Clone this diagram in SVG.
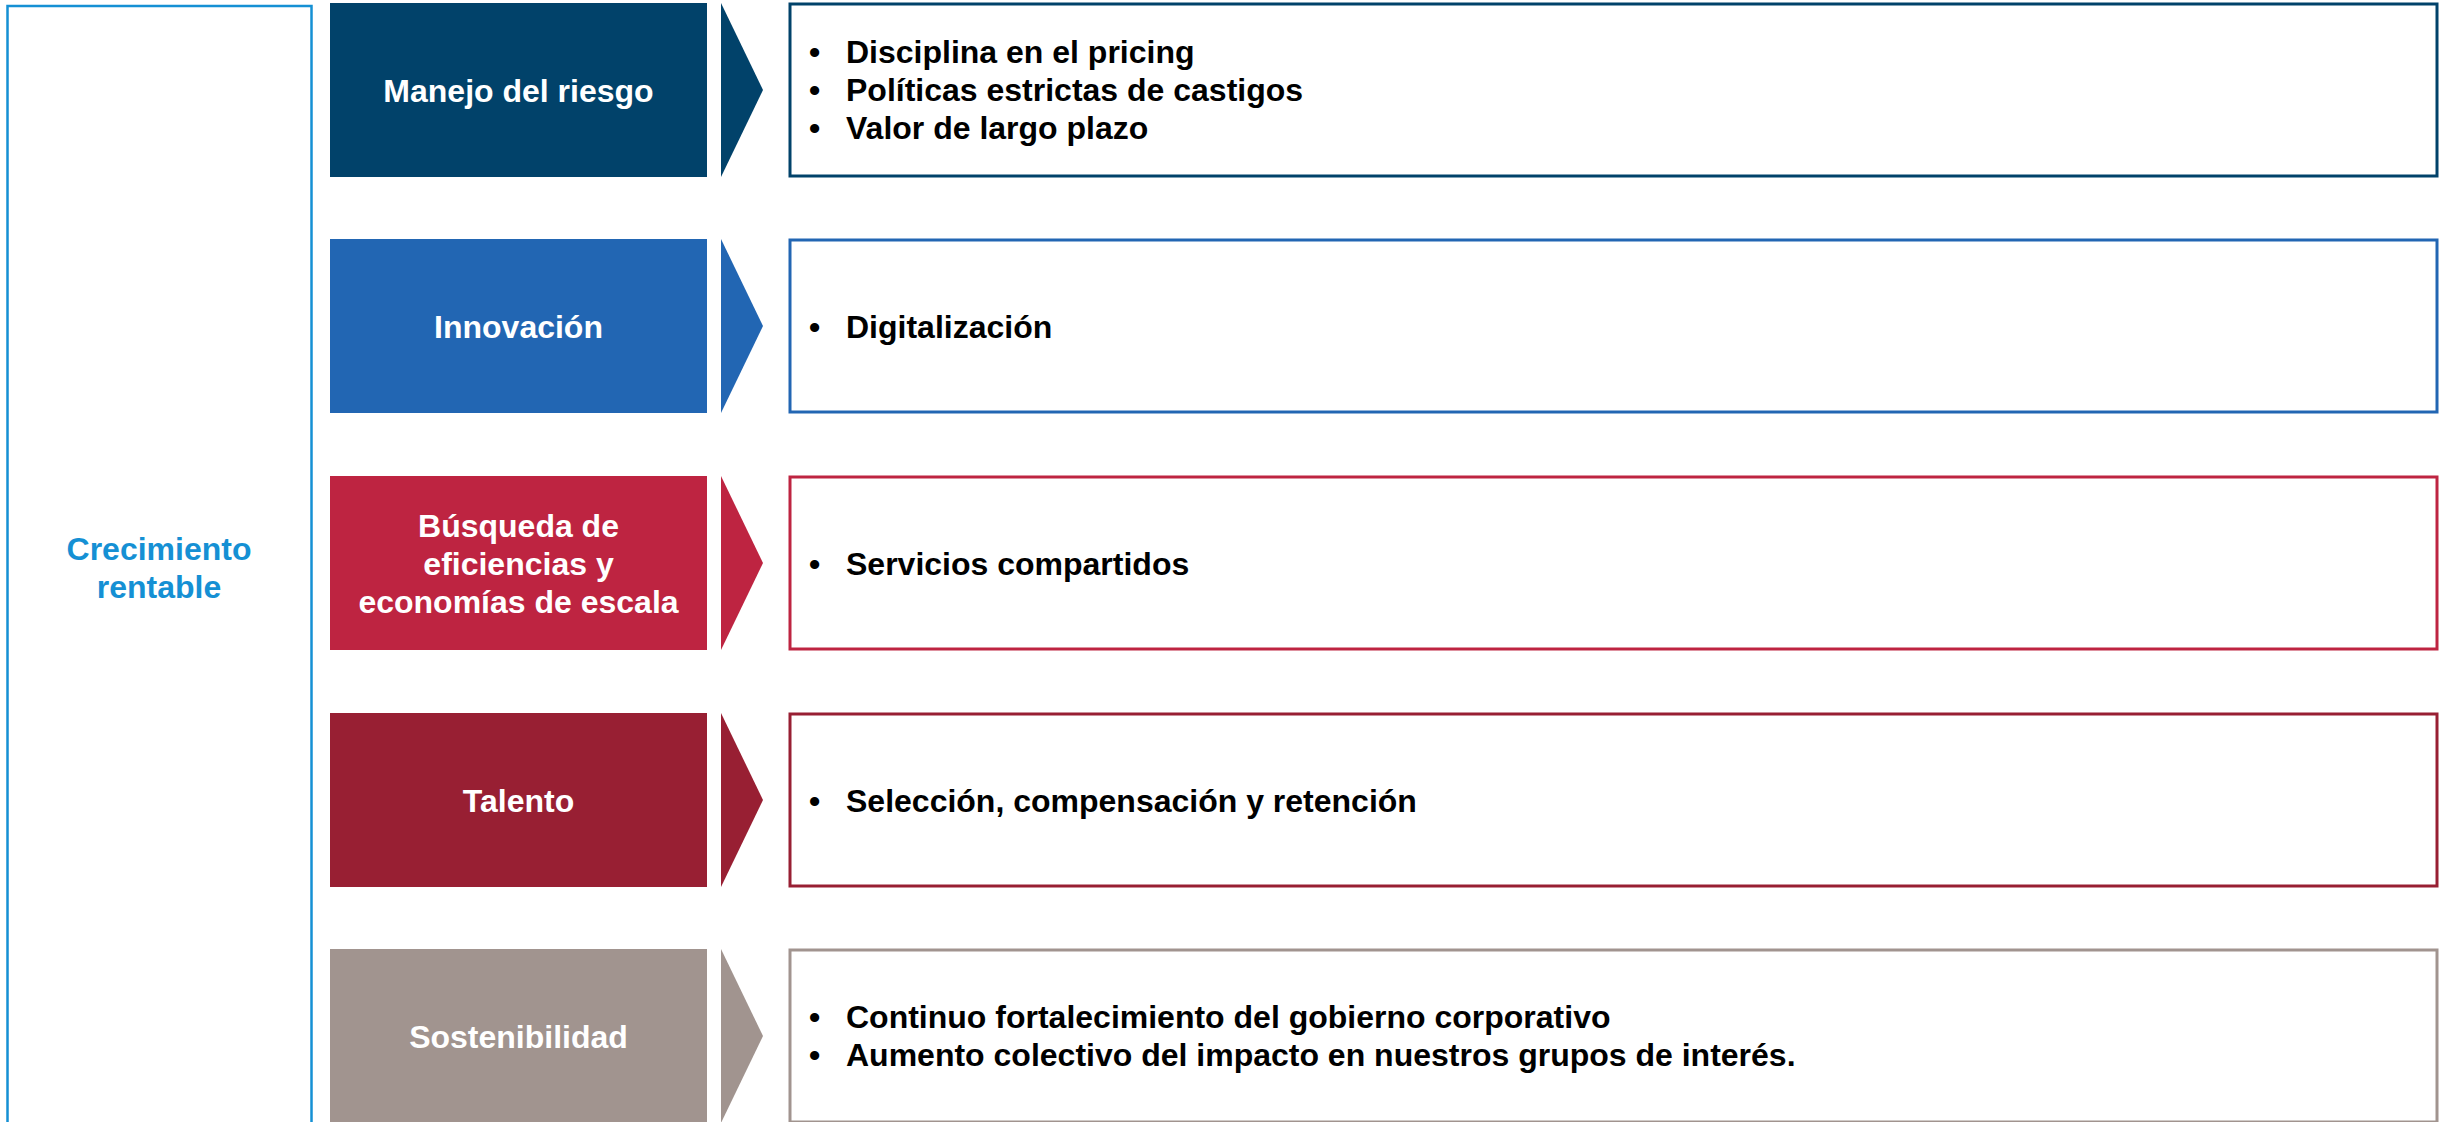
<svg xmlns="http://www.w3.org/2000/svg" width="2446" height="1122" viewBox="0 0 2446 1122">
<style>
text{font-family:"Liberation Sans",Arial,sans-serif;font-weight:bold;font-size:32px}
.lbl{fill:#fff;text-anchor:middle}
.item{fill:#000}
.box{fill:#fff;stroke-width:3}
</style>
<rect width="2446" height="1122" fill="#fff"/>
<g id="crecimiento">
<rect x="7.5" y="6" width="304" height="1140" fill="none" stroke="#1590D4" stroke-width="2.5"/>
<text x="159" y="560" text-anchor="middle" fill="#1590D4">Crecimiento</text>
<text x="159" y="598" text-anchor="middle" fill="#1590D4">rentable</text>
</g>
<g id="connectors">
<polygon points="721,3 763,90 721,177" fill="#01426A"/>
<polygon points="721,239 763,326 721,413" fill="#2266B3"/>
<polygon points="721,476 763,563 721,650" fill="#BE2441"/>
<polygon points="721,713 763,800 721,887" fill="#981F33"/>
<polygon points="721,949 763,1036 721,1123" fill="#A1948F"/>
</g>
<g id="riesgo">
<rect x="330" y="3" width="377" height="174" fill="#01426A"/>
<text class="lbl" x="518.5" y="102">Manejo del riesgo</text>
</g>
<g id="riesgo-detalle">
<rect class="box" x="790" y="4" width="1647" height="172" stroke="#01426A"/>
<text class="item" x="809" y="63">•</text><text class="item" x="846" y="63">Disciplina en el pricing</text>
<text class="item" x="809" y="101">•</text><text class="item" x="846" y="101">Políticas estrictas de castigos</text>
<text class="item" x="809" y="139">•</text><text class="item" x="846" y="139">Valor de largo plazo</text>
</g>
<g id="innovacion">
<rect x="330" y="239" width="377" height="174" fill="#2266B3"/>
<text class="lbl" x="518.5" y="338">Innovación</text>
</g>
<g id="innovacion-detalle">
<rect class="box" x="790" y="240" width="1647" height="172" stroke="#2266B3"/>
<text class="item" x="809" y="338">•</text><text class="item" x="846" y="338">Digitalización</text>
</g>
<g id="eficiencias">
<rect x="330" y="476" width="377" height="174" fill="#BE2441"/>
<text class="lbl" x="518.5" y="537">Búsqueda de</text>
<text class="lbl" x="518.5" y="575">eficiencias y</text>
<text class="lbl" x="518.5" y="613">economías de escala</text>
</g>
<g id="eficiencias-detalle">
<rect class="box" x="790" y="477" width="1647" height="172" stroke="#BE2441"/>
<text class="item" x="809" y="575">•</text><text class="item" x="846" y="575">Servicios compartidos</text>
</g>
<g id="talento">
<rect x="330" y="713" width="377" height="174" fill="#981F33"/>
<text class="lbl" x="518.5" y="812">Talento</text>
</g>
<g id="talento-detalle">
<rect class="box" x="790" y="714" width="1647" height="172" stroke="#981F33"/>
<text class="item" x="809" y="812">•</text><text class="item" x="846" y="812">Selección, compensación y retención</text>
</g>
<g id="sostenibilidad">
<rect x="330" y="949" width="377" height="174" fill="#A1948F"/>
<text class="lbl" x="518.5" y="1048">Sostenibilidad</text>
</g>
<g id="sostenibilidad-detalle">
<rect class="box" x="790" y="950" width="1647" height="172" stroke="#A1948F"/>
<text class="item" x="809" y="1028">•</text><text class="item" x="846" y="1028">Continuo fortalecimiento del gobierno corporativo</text>
<text class="item" x="809" y="1066">•</text><text class="item" x="846" y="1066">Aumento colectivo del impacto en nuestros grupos de interés.</text>
</g>
</svg>
